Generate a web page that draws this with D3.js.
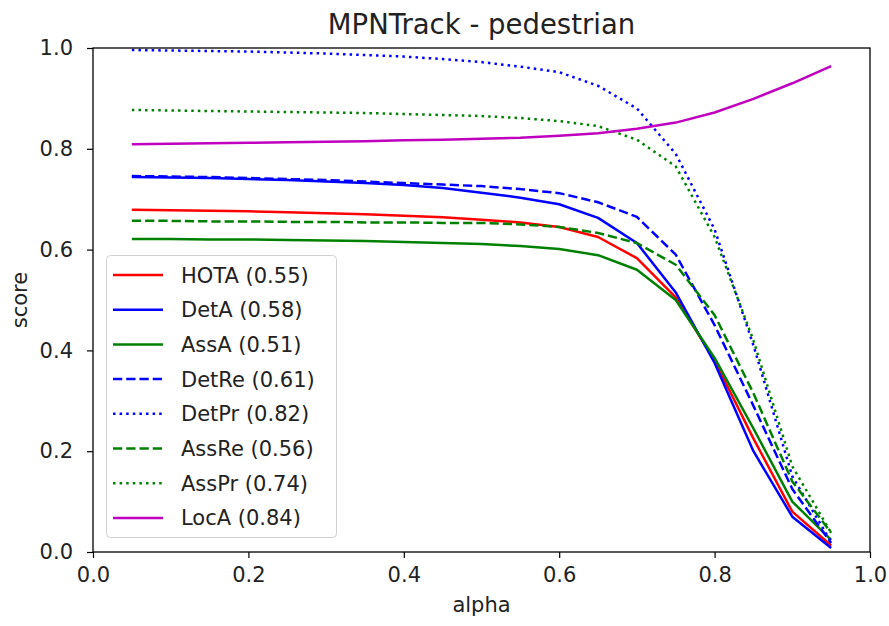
<!DOCTYPE html>
<html><head><meta charset="utf-8">
<script src="https://cdn.jsdelivr.net/npm/d3@7"></script>
<style>body{margin:0;background:#fff}svg{display:block;font-family:"DejaVu Sans",sans-serif}</style>
</head><body><svg id="c" width="889" height="626"></svg>
<script>
const alphas = [0.05,0.1,0.15,0.2,0.25,0.3,0.35,0.4,0.45,0.5,0.55,0.6,0.65,0.7,0.75,0.8,0.85,0.9,0.95];
const HOTA  = [0.679,0.678,0.677,0.676,0.674,0.672,0.670,0.667,0.664,0.659,0.654,0.645,0.625,0.583,0.505,0.380,0.225,0.080,0.013];
const DetA  = [0.744,0.743,0.742,0.740,0.738,0.735,0.732,0.728,0.722,0.713,0.703,0.690,0.663,0.613,0.515,0.375,0.200,0.070,0.008];
const AssA  = [0.621,0.621,0.620,0.620,0.619,0.618,0.617,0.615,0.613,0.611,0.607,0.601,0.589,0.560,0.500,0.385,0.245,0.100,0.024];
const DetRe = [0.746,0.745,0.744,0.742,0.740,0.738,0.735,0.732,0.729,0.726,0.720,0.712,0.694,0.665,0.590,0.450,0.290,0.125,0.018];
const DetPr = [0.996,0.995,0.994,0.993,0.991,0.989,0.986,0.983,0.978,0.972,0.963,0.952,0.925,0.880,0.790,0.640,0.410,0.150,0.020];
const AssRe = [0.657,0.657,0.656,0.656,0.655,0.655,0.654,0.654,0.653,0.653,0.650,0.645,0.633,0.613,0.570,0.470,0.315,0.140,0.038];
const AssPr = [0.877,0.876,0.875,0.874,0.873,0.872,0.871,0.869,0.867,0.865,0.861,0.855,0.845,0.818,0.765,0.625,0.420,0.170,0.038];
const LocA  = [0.809,0.810,0.811,0.812,0.813,0.814,0.815,0.817,0.818,0.820,0.822,0.826,0.831,0.840,0.852,0.872,0.899,0.930,0.964];
const seriesNames = ["HOTA","DetA","AssA","DetRe","DetPr","AssRe","AssPr","LocA"];
const seriesMeans = ["0.55","0.58","0.51","0.61","0.82","0.56","0.74","0.84"];
const xTicks = [0,0.2,0.4,0.6,0.8,1.0];
const yTicks = [0,0.2,0.4,0.6,0.8,1.0];

const seriesData = [HOTA,DetA,AssA,DetRe,DetPr,AssRe,AssPr,LocA];
const colors = {HOTA:"#ff0000",DetA:"#0000ff",AssA:"#008000",DetRe:"#0000ff",DetPr:"#0000ff",AssRe:"#008000",AssPr:"#008000",LocA:"#bf00bf"};
const lw = 2.5;
const dashes = {HOTA:null,DetA:null,AssA:null,DetRe:"9.25,4",DetPr:"2.5,4.1",AssRe:"9.25,4",AssPr:"2.5,4.1",LocA:null};

const L=93,R=870,T=48,B=552;
const svg = d3.select("#c");
const x = d3.scaleLinear().domain([0,1]).range([L,R]);
const y = d3.scaleLinear().domain([0,1]).range([B,T]);

const line = d3.line().x((d,i)=>x(alphas[i])).y(d=>y(d));
const g = svg.append("g");
seriesNames.forEach((n,k)=>{
  g.append("path").datum(seriesData[k]).attr("d",line).attr("fill","none")
   .attr("stroke",colors[n]).attr("stroke-width",lw)
   .attr("stroke-dasharray",dashes[n]).attr("stroke-linejoin","round");
});

// axes
const xa = svg.append("g").attr("transform",`translate(0,${B})`)
  .call(d3.axisBottom(x).tickValues(xTicks).tickFormat(d3.format(".1f")).tickSize(6).tickPadding(9));
const ya = svg.append("g").attr("transform",`translate(${L},0)`)
  .call(d3.axisLeft(y).tickValues(yTicks).tickFormat(d3.format(".1f")).tickSize(6).tickPadding(14));
[xa,ya].forEach(a=>{
  a.select(".domain").remove();
  a.selectAll("line").attr("stroke","#000").attr("stroke-width",1.2);
  a.selectAll("text").attr("font-size",21).attr("fill","#222").attr("font-family","DejaVu Sans");
});
svg.append("rect").attr("x",L).attr("y",T).attr("width",R-L).attr("height",B-T)
  .attr("fill","none").attr("stroke","#000").attr("stroke-width",1.3);

svg.append("text").attr("x",(L+R)/2).attr("y",34).attr("text-anchor","middle")
  .attr("font-size",27.5).attr("fill","#222").text("MPNTrack - pedestrian");
svg.append("text").attr("x",(L+R)/2).attr("y",612).attr("text-anchor","middle")
  .attr("font-size",21).attr("fill","#222").text("alpha");
svg.append("text").attr("transform",`translate(27,${(T+B)/2}) rotate(-90)`).attr("text-anchor","middle")
  .attr("font-size",21).attr("fill","#222").text("score");

// legend
const lg = svg.append("g");
lg.append("rect").attr("x",106.5).attr("y",255.5).attr("width",230).attr("height",282).attr("rx",4)
  .attr("fill","#fff").attr("fill-opacity",0.8).attr("stroke","#d0d0d0").attr("stroke-width",1);
seriesNames.forEach((n,k)=>{
  const yy = 275 + k*34.7;
  lg.append("line").attr("x1",113).attr("x2",163).attr("y1",yy).attr("y2",yy)
    .attr("stroke",colors[n]).attr("stroke-width",lw).attr("stroke-dasharray",dashes[n]);
  lg.append("text").attr("x",181).attr("y",yy+7.5).attr("font-size",21).attr("fill","#222")
    .text(`${n} (${seriesMeans[k]})`);
});
</script></body></html>
